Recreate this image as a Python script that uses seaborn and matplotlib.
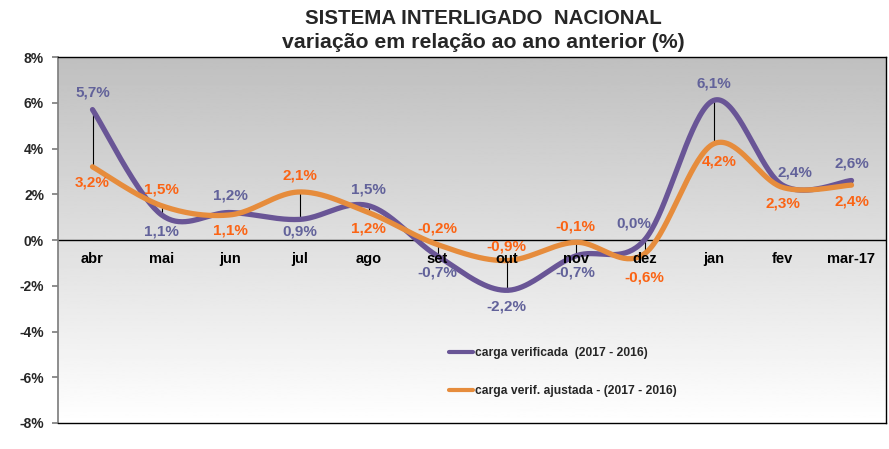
import numpy as np
import pandas as pd
import matplotlib
matplotlib.use("Agg")
import matplotlib.pyplot as plt
import seaborn as sns

months = ["abr", "mai", "jun", "jul", "ago", "set", "out", "nov", "dez", "jan", "fev", "mar-17"]
verificada = [5.7, 1.1, 1.2, 0.9, 1.5, -0.7, -2.2, -0.7, 0.0, 6.1, 2.4, 2.6]
ajustada = [3.2, 1.5, 1.1, 2.1, 1.2, -0.2, -0.9, -0.1, -0.6, 4.2, 2.3, 2.4]
label_verif = "carga verificada  (2017 - 2016)"
label_ajust = "carga verif. ajustada - (2017 - 2016)"
yticks = [-8, -6, -4, -2, 0, 2, 4, 6, 8]
# label placement: +1 above, -1 below
pos_verif = [1, -1, 1, -1, 1, -1, -1, -1, 1, 1, 1, 1]
pos_ajust = [-1, 1, -1, 1, -1, 1, 1, 1, -1, -1, -1, -1]

sns.set_theme(style="white")
plt.rcParams['font.family'] = ['Liberation Sans', 'DejaVu Sans']

C_PURPLE = "#695596"
C_ORANGE = "#e68c3c"
T_PURPLE = "#62629a"
T_ORANGE = "#fb6414"


def smooth(y, n=40):
    y = np.asarray(y, float)
    x = np.arange(len(y), dtype=float)
    P = np.column_stack([x, y])
    Pe = np.vstack([P[0], P, P[-1]])
    out = []
    for i in range(len(P) - 1):
        p0, p1, p2, p3 = Pe[i], Pe[i + 1], Pe[i + 2], Pe[i + 3]
        c1 = p1 + (p2 - p0) / 6.0
        c2 = p2 - (p3 - p1) / 6.0
        t = np.linspace(0, 1, n, endpoint=(i == len(P) - 2))[:, None]
        seg = (1 - t) ** 3 * p1 + 3 * (1 - t) ** 2 * t * c1 + 3 * (1 - t) * t ** 2 * c2 + t ** 3 * p2
        out.append(seg)
    out = np.vstack(out)
    return out[:, 0], out[:, 1]


fig = plt.figure(figsize=(8.89, 4.49), dpi=100)
ax = fig.add_axes([58 / 889, 1 - 423 / 449, (886 - 58) / 889, (423 - 57) / 449])

# gradient background (gray at top -> white at bottom)
grad = np.linspace(0.75, 1.0, 256)[:, None]
ax.imshow(grad, extent=[-0.5, 11.5, -8, 8], cmap="gray", vmin=0, vmax=1,
          aspect="auto", zorder=0, origin="upper")
ax.set_xlim(-0.5, 11.5)
ax.set_ylim(-8, 8)

# drop lines
x = np.arange(len(months))
ax.vlines(x, np.minimum(verificada, ajustada), np.maximum(verificada, ajustada),
          color="black", lw=0.8, zorder=2)
ax.axhline(0, color="black", lw=1.0, zorder=1)

xs, ys = smooth(verificada)
xa, ya = smooth(ajustada)
df_v = pd.DataFrame({"x": xs, "y": ys})
df_a = pd.DataFrame({"x": xa, "y": ya})
sns.lineplot(data=df_v, x="x", y="y", ax=ax, color=C_PURPLE, lw=3.8, sort=False,
             label=label_verif, zorder=3)
sns.lineplot(data=df_a, x="x", y="y", ax=ax, color=C_ORANGE, lw=3.8, sort=False,
             label=label_ajust, zorder=4)


def fmt(v):
    return f"{v:.1f}".replace(".", ",") + "%"


off_verif = {"dez": (-8, 12), "fev": (9, 9), "jul": (0, -9)}
off_ajust = {"jan": (4, -13), "dez": (0, -17), "out": (0, 10)}
for i, (v, p) in enumerate(zip(verificada, pos_verif)):
    off = off_verif.get(months[i], (0, 12 * p))
    ax.annotate(fmt(v), (i, v), xytext=off,
                textcoords="offset points", ha="center", va="center",
                color=T_PURPLE, fontsize=11, fontweight="bold", zorder=6)
for i, (v, p) in enumerate(zip(ajustada, pos_ajust)):
    off = off_ajust.get(months[i], (0, 11.5 * p))
    ax.annotate(fmt(v), (i, v), xytext=off,
                textcoords="offset points", ha="center", va="center",
                color=T_ORANGE, fontsize=11, fontweight="bold", zorder=6)

# category labels along zero line
for i, m in enumerate(months):
    ax.annotate(m, (i, 0), xytext=(0, -14), textcoords="offset points",
                ha="center", va="center", fontsize=10.5, fontweight="bold",
                color="black", zorder=5)

ax.set_xticks([])
ax.set_yticks(yticks)
ax.set_yticklabels([f"{t}%" for t in yticks], fontsize=10, fontweight="bold")
ax.tick_params(axis="y", length=4, color="#808080", left=True, pad=6)
ax.set_xlabel("")
ax.set_ylabel("")
for s in ["top", "right", "bottom"]:
    ax.spines[s].set_color("black")
    ax.spines[s].set_linewidth(1.0)
ax.spines["left"].set_color("#808080")

leg = ax.legend(loc="upper left", bbox_to_anchor=((444 - 58) / 828, 1 - (342 - 57) / 366),
                frameon=False, fontsize=8.7, handlelength=2.0, handletextpad=0.15,
                labelspacing=2.2, borderaxespad=0)
for t in leg.get_texts():
    t.set_fontweight("bold")
for h in leg.legend_handles:
    h.set_linewidth(3.0)
leg.set_zorder(7)

fig.text(483 / 889, 1 - 18 / 449, "SISTEMA INTERLIGADO  NACIONAL", ha="center", va="center",
         fontsize=14.8, fontweight="bold")
fig.text(483 / 889, 1 - 42 / 449, "variação em relação ao ano anterior (%)", ha="center",
         va="center", fontsize=15.3, fontweight="bold")

fig.savefig("out.png", dpi=100)
